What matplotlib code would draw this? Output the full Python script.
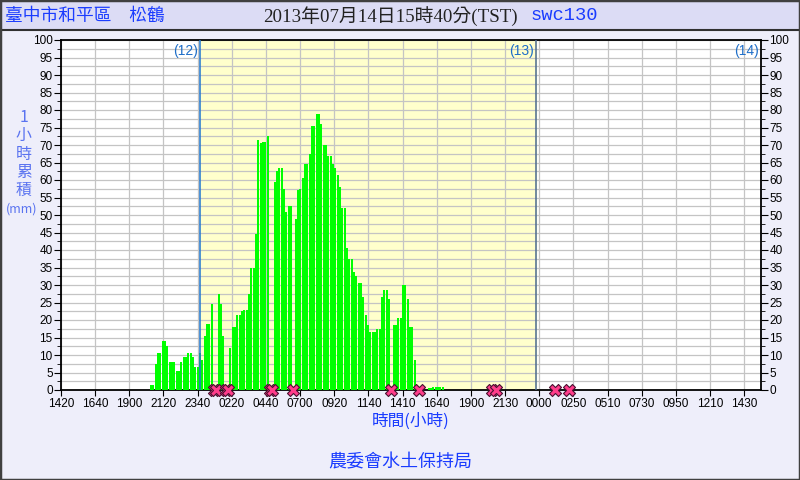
import matplotlib
matplotlib.use("Agg")
import matplotlib.pyplot as plt
from matplotlib.patches import Rectangle
from matplotlib.lines import Line2D
from matplotlib.ticker import MultipleLocator

# 1-hour accumulated rain (mm), one value every 10 minutes,
# first value at 2013-07-12 20:30 (hours counted from 07-13 00:00)
start_hour = -3.5
rain = [1.4, 1.4, 7.4, 10.6, 10.6, 14, 14, 12.6, 8.1,
        8.1, 8.1, 5.4, 5.4, 8.1, 9.4, 9.4, 10.6, 10.6, 9.4, 6.6, 6.6, 10.6, 8.6,
        15.5, 18.9, 18.9, 24.6, 0, 0, 27.4, 24.6, 15.5, 0, 0,
        12, 18, 18, 21.4, 21.4, 22.6, 22.9, 22.9, 27.5, 35, 35, 44.6,
        71.4, 70.7, 70.8, 70.8, 72.6, 0, 0,
        59.4, 62.6, 63.4, 63.4, 57.4, 50.9, 52.6, 52.6, 0, 49,
        57.1, 57.3, 60.6, 64.6, 64.6, 67.4, 75.4, 75.4, 78.9, 78.9, 76,
        70, 70, 66.9, 66.9, 64.6, 63.4, 61.3, 58, 52, 52, 40.6, 37.4, 37.4,
        33.8, 32.6, 30.6, 30.6, 26.6, 21.4, 18.6, 16.7, 16.7,
        16.6, 17.4, 17.4, 26.6, 28.6, 28.6, 26, 0, 18.6, 18.6, 20.6, 20.6,
        30, 30, 26, 18, 18, 8.6,
        0, 0, 0, 0, 0,
        0.6, 0.6, 0.9, 0.9, 0.9, 0.9, 0.9]

# pink X marks on the time axis (hours from 07-13 00:00)
mark_hours = [1.0, 1.17, 1.83, 2.0, 5.0, 5.17, 6.67, 13.67, 15.67,
              20.83, 21.17, 25.33, 26.33]

tick_labels = ["1420", "1640", "1900", "2120", "2340", "0220", "0440", "0700",
               "0920", "1140", "1410", "1640", "1900", "2130", "0000", "0250",
               "0510", "0730", "0950", "1210", "1430"]
day_marks = [(0, "(12)"), (24, "(13)"), (40.07, "(14)")]

hours = [start_hour + i / 6 for i in range(len(rain))]

cjk = ["Noto Sans CJK TC", "DejaVu Sans"]
serif_cjk = ["Liberation Serif", "Noto Sans CJK TC"]
blue = "#1a3cff"

fig = plt.figure(figsize=(8, 4.8), dpi=100, facecolor="#eeeefa")
fig.patches.append(Rectangle((0, 1 - 30 / 480), 1, 30 / 480, transform=fig.transFigure,
                             facecolor="#dcdcf5", edgecolor="none", zorder=0))
fig.add_artist(Line2D([0, 1], [1 - 30 / 480] * 2, color="#303030", lw=1.5))
fig.patches.append(Rectangle((0, 0), 1, 1, transform=fig.transFigure, fill=False,
                             edgecolor="#404040", lw=2.5, zorder=5))

ax = fig.add_axes([61 / 800, 90 / 480, 700 / 800, 350 / 480])
ax.set_facecolor("white")
xmin, xmax = -9.93, 40.07
ax.set_xlim(xmin, xmax)
ax.set_ylim(0, 100)

ax.axvspan(0, 24, color="#ffffcc", zorder=0)
ax.bar(hours, rain, width=1 / 6 * 0.92, color="#00ff00", zorder=3)

# grid
ax.yaxis.set_major_locator(MultipleLocator(5))
ax.yaxis.set_minor_locator(MultipleLocator(2.5))
ticks = [xmin + 2.44 * k for k in range(len(tick_labels))]
ax.set_xticks(ticks)
ax.set_xticklabels(tick_labels, fontsize=8.5, family="Liberation Sans")
ax.grid(True, which="both", axis="y", color="#c4c4c4", lw=0.9, zorder=1)
ax.grid(True, which="major", axis="x", color="#c4c4c4", lw=0.9, zorder=1)
ax.set_axisbelow(True)

ax.tick_params(axis="y", which="both", left=True, right=True, labelleft=True,
               labelright=True, direction="out", labelsize=8.5, pad=1)
ax.tick_params(axis="y", which="major", length=5)
ax.tick_params(axis="y", which="minor", length=3)
ax.tick_params(axis="x", length=4, pad=2)
for lab in ax.get_yticklabels():
    lab.set_family("Liberation Sans")
for s in ax.spines.values():
    s.set_color("black")
    s.set_linewidth(1.3)

# day lines
ax.axvline(0, color="#1f77d0", lw=1.1, zorder=4)
ax.axvline(24, color="#4a6a90", lw=1.1, zorder=4)
for h, lab in day_marks:
    ax.text(h - 0.15, 96.8, lab, ha="right", va="center", fontsize=10,
            color="#1e6ec8", family="Liberation Sans", zorder=6)

ax.scatter(mark_hours, [0] * len(mark_hours), marker="X", s=75, facecolor="#ff3d8b",
           edgecolor="#4a1030", linewidth=0.8, zorder=6, clip_on=False)

# texts
fig.text(5 / 800, 1 - 16 / 480, "臺中市和平區　松鶴", fontsize=12.8, color=blue,
         family=cjk, va="center", ha="left")
fig.text(263 / 800, 1 - 16 / 480, "2013年07月14日15時40分(TST)", fontsize=13.6,
         color="#222222", family=serif_cjk, va="center", ha="left")
fig.text(531 / 800, 1 - 16 / 480, "swc130", fontsize=13.5, color=blue,
         family="Liberation Mono", va="center", ha="left")
fig.text(24 / 800, 1 - 154 / 480, "1\n小\n時\n累\n積", fontsize=11.5, color="#5a73f0",
         family=cjk, va="center", ha="center", linespacing=1.1)
fig.text(22 / 800, 1 - 209 / 480, "(mm)", fontsize=9, color="#5a73f0",
         family=cjk, va="center", ha="center")
fig.text(411 / 800, 1 - 421 / 480, "時間(小時)", fontsize=12, color=blue,
         family=cjk, va="center", ha="center")
fig.text(400 / 800, 1 - 462 / 480, "農委會水土保持局", fontsize=13, color=blue,
         family=cjk, va="center", ha="center")

fig.savefig("out.png", dpi=100, facecolor=fig.get_facecolor())
